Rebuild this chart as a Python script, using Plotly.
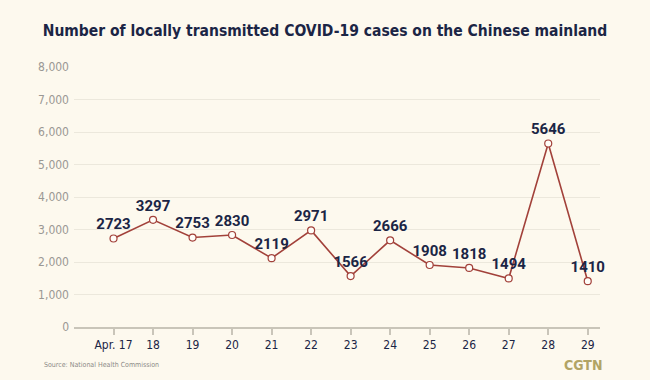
import plotly.graph_objects as go

dates = ["Apr. 17", "18", "19", "20", "21", "22", "23", "24", "25", "26", "27", "28", "29"]
cases = [2723, 3297, 2753, 2830, 2119, 2971, 1566, 2666, 1908, 1818, 1494, 5646, 1410]
y_ticks = [0, 1000, 2000, 3000, 4000, 5000, 6000, 7000, 8000]
y_tick_text = ["0", "1,000", "2,000", "3,000", "4,000", "5,000", "6,000", "7,000", "8,000"]

BG = "#fdf9ee"
NAVY = "#1b2545"
RED = "#a2413a"
COND = "DejaVu Sans Condensed, Roboto, sans-serif"

fig = go.Figure()
fig.add_trace(go.Scatter(
    x=dates, y=cases,
    mode="lines+markers+text",
    line=dict(color=RED, width=1.6),
    marker=dict(size=7, color="#fffdf8", line=dict(color=RED, width=1.2)),
    text=[str(v) for v in cases],
    textposition="top center",
    textfont=dict(family="Roboto", size=15, color=NAVY, weight="bold"),
    cliponaxis=False,
    hoverinfo="skip",
))

fig.update_layout(
    width=650, height=380,
    paper_bgcolor=BG, plot_bgcolor=BG,
    margin=dict(l=74, r=50, t=67, b=53),
    showlegend=False,
    title=dict(
        text="<b>Number of locally transmitted COVID-19 cases on the Chinese mainland</b>",
        x=0.5, xanchor="center", y=0.92, yanchor="middle",
        font=dict(family=COND, size=15.5, color=NAVY),
    ),
    xaxis=dict(
        type="category", range=[-1, 12.31],
        showgrid=False, zeroline=False,
        showline=True, linecolor="#c9c5b9", linewidth=2,
        ticks="outside", ticklen=6, tickcolor="#c9c5b9", tickwidth=1.5,
        tickfont=dict(family=COND, size=12, color=NAVY),
        fixedrange=True,
    ),
    yaxis=dict(
        range=[0, 8000], tickvals=y_ticks, ticktext=y_tick_text,
        showgrid=True, gridcolor="#ece8dc", gridwidth=1,
        zeroline=False, showline=False, ticks="",
        tickfont=dict(family=COND, size=12, color="#9a9894"),
        ticklabelstandoff=4,
        fixedrange=True,
    ),
    annotations=[
        dict(text="Source: National Health Commission", xref="paper", yref="paper",
             x=-0.056, y=-0.125, xanchor="left", yanchor="middle", showarrow=False,
             font=dict(family=COND, size=7, color="#8c8a86"),
             yshift=-5, xshift=-3),
        dict(text="<b>CGTN</b>", xref="paper", yref="paper",
             x=1.0, y=-0.125, xanchor="right", yanchor="middle", showarrow=False,
             font=dict(family=COND, size=14, color="#b2a465"),
             yshift=-5, xshift=4),
    ],
)

fig.write_html("out.html", config={"displayModeBar": False},
               post_script="document.body.style.margin='0';")
